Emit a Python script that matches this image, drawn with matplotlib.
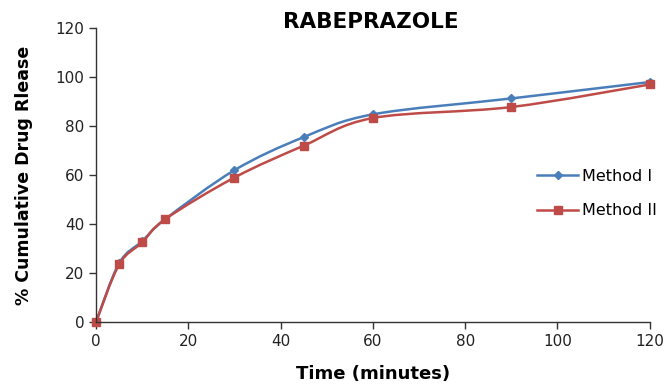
import numpy as np
import matplotlib.pyplot as plt
from matplotlib.path import Path
from matplotlib.patches import PathPatch
from matplotlib.lines import Line2D

plt.rcParams['font.family'] = ['DejaVu Sans']

time_min = [0, 5, 10, 15, 30, 45, 60, 90, 120]
method_1 = [0, 24, 33, 42, 62, 75.5, 84.8, 91.3, 98]
method_2 = [0, 23.5, 32.5, 42, 59, 72, 83.3, 87.8, 97]

blue = '#4a7ebb'
red = '#be4b48'


def smooth_path(x, y):
    """Excel-like smoothed line as cubic Bezier segments."""
    pts = np.column_stack([x, y]).astype(float)
    n = len(pts)
    verts = [pts[0]]
    codes = [Path.MOVETO]
    for i in range(n - 1):
        p0 = pts[max(i - 1, 0)]
        p1 = pts[i]
        p2 = pts[i + 1]
        p3 = pts[min(i + 2, n - 1)]
        c1 = p1 + (p2 - p0) / 6.0
        c2 = p2 - (p3 - p1) / 6.0
        verts += [c1, c2, p2]
        codes += [Path.CURVE4] * 3
    return Path(verts, codes)


fig = plt.figure(figsize=(6.65, 3.86), dpi=100)
ax = fig.add_axes([0.1444, 0.1658, 0.8326, 0.7612])

for xs, ys, col, mk, ms in [(time_min, method_1, blue, 'D', 4),
                            (time_min, method_2, red, 's', 5.5)]:
    ax.add_patch(PathPatch(smooth_path(xs, ys), facecolor='none', edgecolor=col, lw=1.8))
    ax.plot(xs, ys, ls='none', marker=mk, ms=ms, color=col, clip_on=False)

ax.set_xlim(0, 120)
ax.set_ylim(0, 120)
ax.set_xticks(range(0, 121, 20))
ax.set_yticks(range(0, 121, 20))
ax.spines['top'].set_visible(False)
ax.spines['right'].set_visible(False)
for s in ['left', 'bottom']:
    ax.spines[s].set_color('#333333')
    ax.spines[s].set_linewidth(1.0)
ax.tick_params(direction='out', length=5, width=1, colors='#333333', labelsize=11,
               labelcolor='#222222')

ax.set_xlabel('Time (minutes)', fontsize=13, fontweight='bold', labelpad=12)
ax.set_ylabel('% Cumulative Drug Rlease', fontsize=12.5, fontweight='bold', labelpad=16)
fig.text(0.558, 0.943, 'RABEPRAZOLE', fontsize=15.5, fontweight='bold', ha='center', va='center')

handles = [Line2D([], [], color=blue, lw=1.8, marker='D', ms=4),
           Line2D([], [], color=red, lw=1.8, marker='s', ms=5.5)]
ax.legend(handles, ['Method I', 'Method II'], frameon=False, fontsize=11.5,
          handlelength=2.6, handletextpad=0.25, labelspacing=1.2,
          borderpad=0, borderaxespad=0,
          loc='center left', bbox_to_anchor=(0.796, 0.437))

fig.savefig('out.png', dpi=100)
